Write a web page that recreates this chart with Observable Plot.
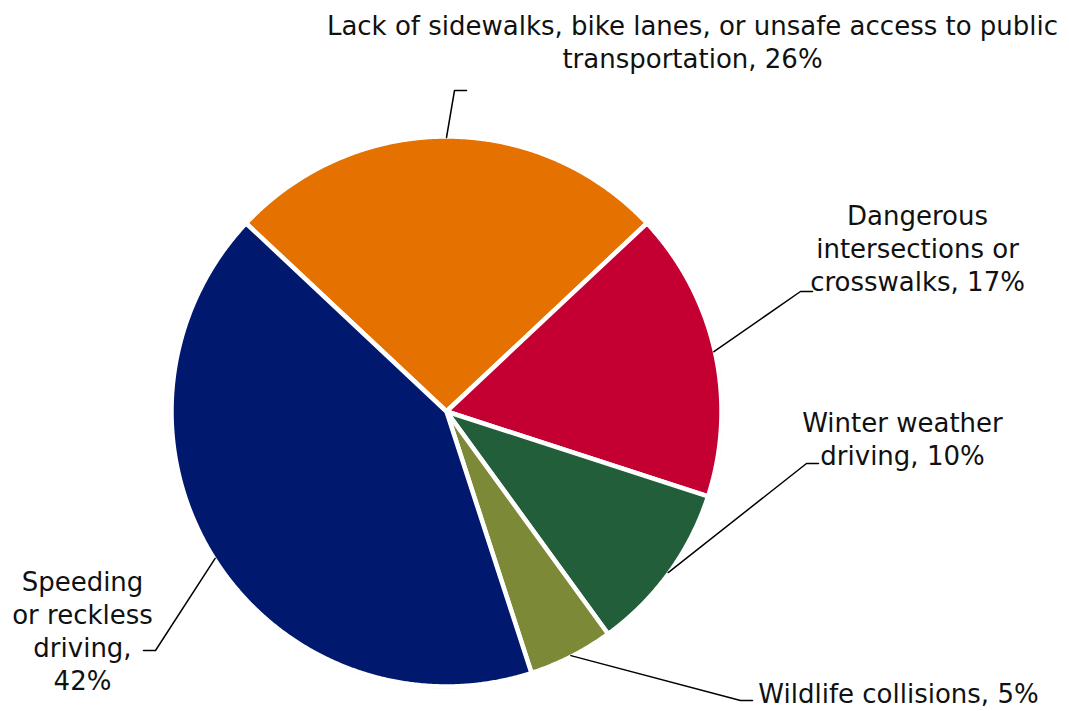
<!DOCTYPE html>
<html>
<head>
<meta charset="utf-8">
<script src="https://cdn.jsdelivr.net/npm/d3@7"></script>
<script src="https://cdn.jsdelivr.net/npm/@observablehq/plot@0.6"></script>
<style>
  html, body { margin: 0; padding: 0; background: #fff; }
  #chart svg { display: block; }
</style>
</head>
<body>
<div id="chart"></div>
<script>
// ---- data ----
const categories = [
  "Lack of sidewalks, bike lanes, or unsafe access to public transportation",
  "Dangerous intersections or crosswalks",
  "Winter weather driving",
  "Wildlife collisions",
  "Speeding or reckless driving"
];
const values = [26, 17, 10, 5, 42];
const colors = ["#E57200", "#C40032", "#225E3A", "#7C8936", "#00196E"];
const labelLines = [
  "Lack of sidewalks, bike lanes, or unsafe access to public\ntransportation, 26%",
  "Dangerous\nintersections or\ncrosswalks, 17%",
  "Winter weather\ndriving, 10%",
  "Wildlife collisions, 5%",
  "Speeding\nor reckless\ndriving,\n42%"
];
// label layout (plot units = pixels)
const labelX = [692, 917, 902, 898, 82];
const labelY = [40, 247, 437, 692, 629];
const elbowX = [454, 800, 806, 740, 155];
const elbowY = [90, 291, 463, 700, 650];
const endX = [466, 812, 818, 752, 143];

// ---- geometry ----
const cx = 446, cy = 411, R = 275;
const pie = d3.pie().sort(null).value(d => d.value)
  .startAngle(-0.26 * Math.PI).endAngle(-0.26 * Math.PI + 2 * Math.PI);
const rows = categories.map((name, i) => ({name, value: values[i], i}));
const arcs = pie(rows);

const polar = (a, r) => [cx + r * Math.sin(a), cy - r * Math.cos(a)];

const slicePts = [];
for (const a of arcs) {
  const name = a.data.name;
  slicePts.push({name, x: cx, y: cy});
  const n = Math.ceil((a.endAngle - a.startAngle) / 0.005);
  for (let k = 0; k <= n; k++) {
    const t = a.startAngle + (a.endAngle - a.startAngle) * k / n;
    const [x, y] = polar(t, R);
    slicePts.push({name, x, y});
  }
  slicePts.push({name, x: cx, y: cy});
}

const ringPts = d3.range(0, 721).map(k => {
  const [x, y] = polar(k / 720 * 2 * Math.PI, R + 1.5);
  return {x, y};
});

const leaderPts = [];
arcs.forEach((a, i) => {
  const mid = (a.startAngle + a.endAngle) / 2;
  const [x0, y0] = polar(mid, R - 1);
  leaderPts.push({name: a.data.name, x: x0, y: y0});
  leaderPts.push({name: a.data.name, x: elbowX[i], y: elbowY[i]});
  leaderPts.push({name: a.data.name, x: endX[i], y: elbowY[i]});
});

const labels = categories.map((name, i) => ({name, text: labelLines[i], x: labelX[i], y: labelY[i]}));

const font = "'DejaVu Sans', sans-serif";

const chart = Plot.plot({
  width: 1069,
  height: 711,
  margin: 0,
  style: {fontFamily: font, background: "#fff"},
  x: {domain: [0, 1069], range: [0, 1069], axis: null},
  y: {domain: [0, 711], range: [0, 711], axis: null},
  color: {domain: categories, range: colors},
  marks: [
    Plot.line(ringPts, {x: "x", y: "y", stroke: "#d6d6d6", strokeWidth: 1}),
    Plot.line(slicePts, {x: "x", y: "y", z: "name", fill: "name", stroke: "white", strokeWidth: 4.5, strokeLinejoin: "round"}),
    Plot.line(leaderPts, {x: "x", y: "y", z: "name", stroke: "black", strokeWidth: 1.5}),
    Plot.text(labels, {x: "x", y: "y", text: "text", fontSize: 26, lineHeight: 1.27, fill: "#111", textAnchor: "middle", lineAnchor: "middle", fontFamily: font})
  ]
});
document.getElementById("chart").appendChild(chart);
</script>
</body>
</html>
